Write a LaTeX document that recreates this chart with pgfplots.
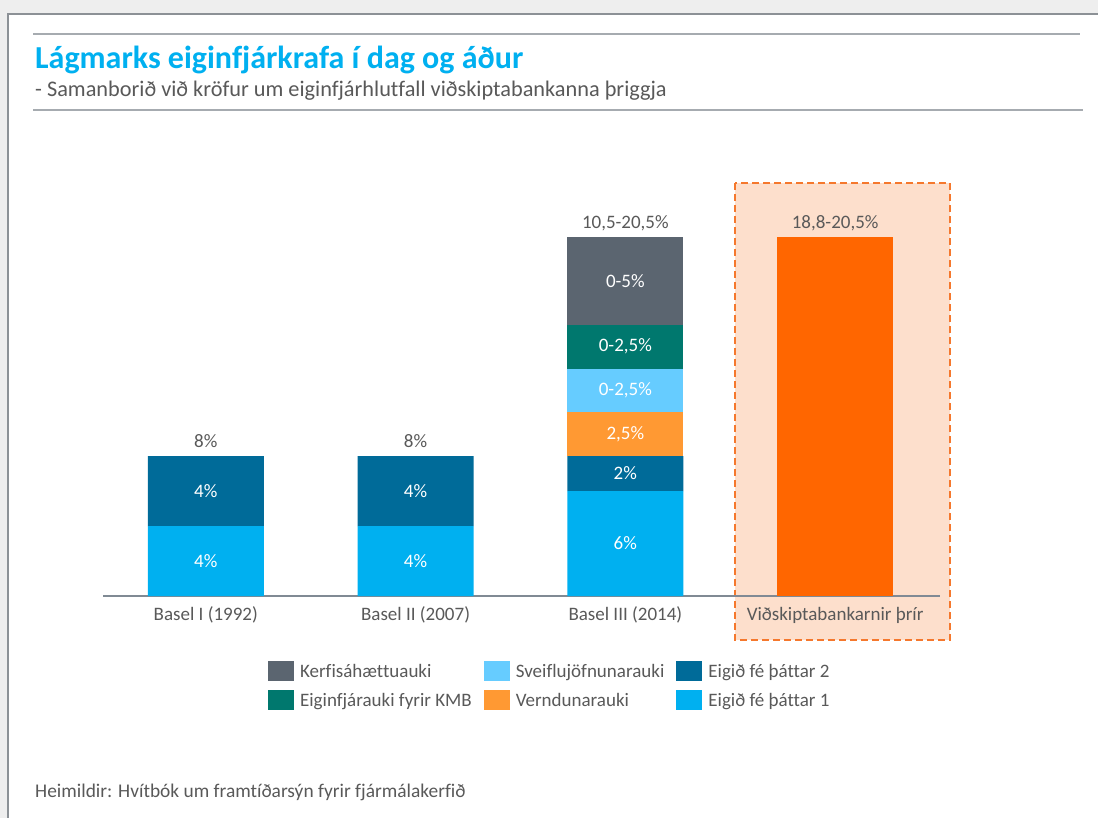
\documentclass[border=0pt]{standalone}
\usepackage{pgfplots}
\usepackage{pgfplotstable}
\pgfplotsset{compat=1.18}
\usepackage{fontspec}
\setmainfont{Carlito}[Ligatures=NoCommon]
\definecolor{tgray}{HTML}{595959}
\definecolor{titleblue}{HTML}{00B0F0}
\definecolor{bggray}{HTML}{EEEEEE}
\definecolor{framegray}{HTML}{8C9196}
\definecolor{linegray}{HTML}{A6ABB0}
\definecolor{axgray}{HTML}{808A94}
\definecolor{cone}{HTML}{00B0F0}
\definecolor{ctwo}{HTML}{006B99}
\definecolor{cvern}{HTML}{FF9933}
\definecolor{csveif}{HTML}{66CCFF}
\definecolor{ckmb}{HTML}{00786E}
\definecolor{ckerf}{HTML}{5B6570}
\definecolor{cbank}{HTML}{FF6600}
\definecolor{hlfill}{HTML}{FDDFCC}
\definecolor{hlborder}{HTML}{F5782D}
\tikzset{inlbl/.style={font=\fontsize{19}{22}\selectfont, text=white},
  toplbl/.style={font=\fontsize{19}{22}\selectfont, text=tgray, anchor=base, yshift=9pt}}
\pgfplotstableread{
x e1 e2 vernd sveif kmb kerf bank
0 4 4 0 0 0 0 0
1 4 4 0 0 0 0 0
2 6 2 2.5 2.5 2.5 5 0
3 0 0 0 0 0 0 20.5
}\datatable
\begin{document}
\begin{tikzpicture}
\useasboundingbox (0pt,0pt) rectangle (1098pt,-818pt);
\fill[bggray] (0pt,0pt) rectangle (1098pt,-818pt);
\fill[white] (8pt,-14pt) rectangle (1098pt,-818pt);
\draw[framegray, line width=1.2pt] (8pt,-818pt) -- (8pt,-14pt) -- (1098pt,-14pt);
\draw[linegray, line width=1.5pt] (33pt,-34pt) -- (1080pt,-34pt);
\draw[linegray, line width=1.5pt] (33pt,-110pt) -- (1083pt,-110pt);
\node[anchor=base west, inner sep=0pt, font=\fontsize{32}{36}\selectfont\bfseries, text=titleblue] at (35pt,-69pt) {Lágmarks eiginfjárkrafa í dag og áður};
\node[anchor=base west, inner sep=0pt, font=\fontsize{22.3}{26}\selectfont, text=tgray] at (35pt,-97pt) {- Samanborið við kröfur um eiginfjárhlutfall viðskiptabankanna þriggja};
\node[anchor=base west, inner sep=0pt, font=\fontsize{19.4}{22}\selectfont, text=tgray] at (35pt,-797pt) {Heimildir: Hvítbók um framtíðarsýn fyrir fjármálakerfið};
\fill[hlfill] (735pt,-183pt) rectangle (950pt,-640pt);
\draw[hlborder, line width=2.5pt, dash pattern=on 7pt off 4pt] (735pt,-183pt) rectangle (950pt,-640pt);
\begin{axis}[
  at={(103pt,-596pt)}, anchor=south west,
  scale only axis, width=837pt, height=420pt,
  xmin=-0.49, xmax=3.5, ymin=0, ymax=24,
  ybar stacked, bar width=116pt,
  axis x line=bottom, axis y line=none,
  axis line style={-, draw=axgray, line width=1.3pt},
  xtick={0,1,2,3}, major tick length=0pt,
  xticklabels={Basel I (1992), Basel II (2007), Basel III (2014), Viðskiptabankarnir þrír},
  xticklabel style={anchor=base, yshift=-24pt, font=\fontsize{19}{22}\selectfont, text=tgray},
  ytick=\empty,
  clip=false,
  legend columns=2,
  transpose legend,
  reverse legend,
  legend cell align=left,
  legend image code/.code={\fill[#1] (0pt,-10pt) rectangle (26pt,10pt);},
  legend style={at={(axis description cs:0.197,-0.155)}, anchor=north west, draw=none, fill=none, inner sep=0pt,
    font=\fontsize{19}{22}\selectfont, text=tgray,
    /tikz/every odd column/.append style={column sep=4pt},
    /tikz/every even column/.append style={column sep=10pt},
    row sep=9pt},
]
\addplot[fill=cone, draw=none] table[x=x, y=e1] {\datatable};
\addlegendentry{Eigið fé þáttar 1}
\addplot[fill=ctwo, draw=none] table[x=x, y=e2] {\datatable};
\addlegendentry{Eigið fé þáttar 2}
\addplot[fill=cvern, draw=none] table[x=x, y=vernd] {\datatable};
\addlegendentry{Verndunarauki}
\addplot[fill=csveif, draw=none] table[x=x, y=sveif] {\datatable};
\addlegendentry{Sveiflujöfnunarauki}
\addplot[fill=ckmb, draw=none] table[x=x, y=kmb] {\datatable};
\addlegendentry{Eiginfjárauki fyrir KMB}
\addplot[fill=ckerf, draw=none] table[x=x, y=kerf] {\datatable};
\addlegendentry{Kerfisáhættuauki}
\addplot[fill=cbank, draw=none, forget plot] table[x=x, y=bank] {\datatable};
\coordinate (a1) at (axis cs:0,2);
\coordinate (a2) at (axis cs:0,6);
\coordinate (b1) at (axis cs:1,2);
\coordinate (b2) at (axis cs:1,6);
\coordinate (c1) at (axis cs:2,3);
\coordinate (c2) at (axis cs:2,7);
\coordinate (c3) at (axis cs:2,9.25);
\coordinate (c4) at (axis cs:2,11.75);
\coordinate (c5) at (axis cs:2,14.25);
\coordinate (c6) at (axis cs:2,18);
\node[toplbl] at (axis cs:0,8) {8\%};
\node[toplbl] at (axis cs:1,8) {8\%};
\node[toplbl] at (axis cs:2,20.5) {10,5-20,5\%};
\node[toplbl] at (axis cs:3,20.5) {18,8-20,5\%};
\end{axis}
\node[inlbl] at (a1) {4\%};
\node[inlbl] at (a2) {4\%};
\node[inlbl] at (b1) {4\%};
\node[inlbl] at (b2) {4\%};
\node[inlbl] at (c1) {6\%};
\node[inlbl] at (c2) {2\%};
\node[inlbl] at (c3) {2,5\%};
\node[inlbl] at (c4) {0-2,5\%};
\node[inlbl] at (c5) {0-2,5\%};
\node[inlbl] at (c6) {0-5\%};
\end{tikzpicture}
\end{document}
